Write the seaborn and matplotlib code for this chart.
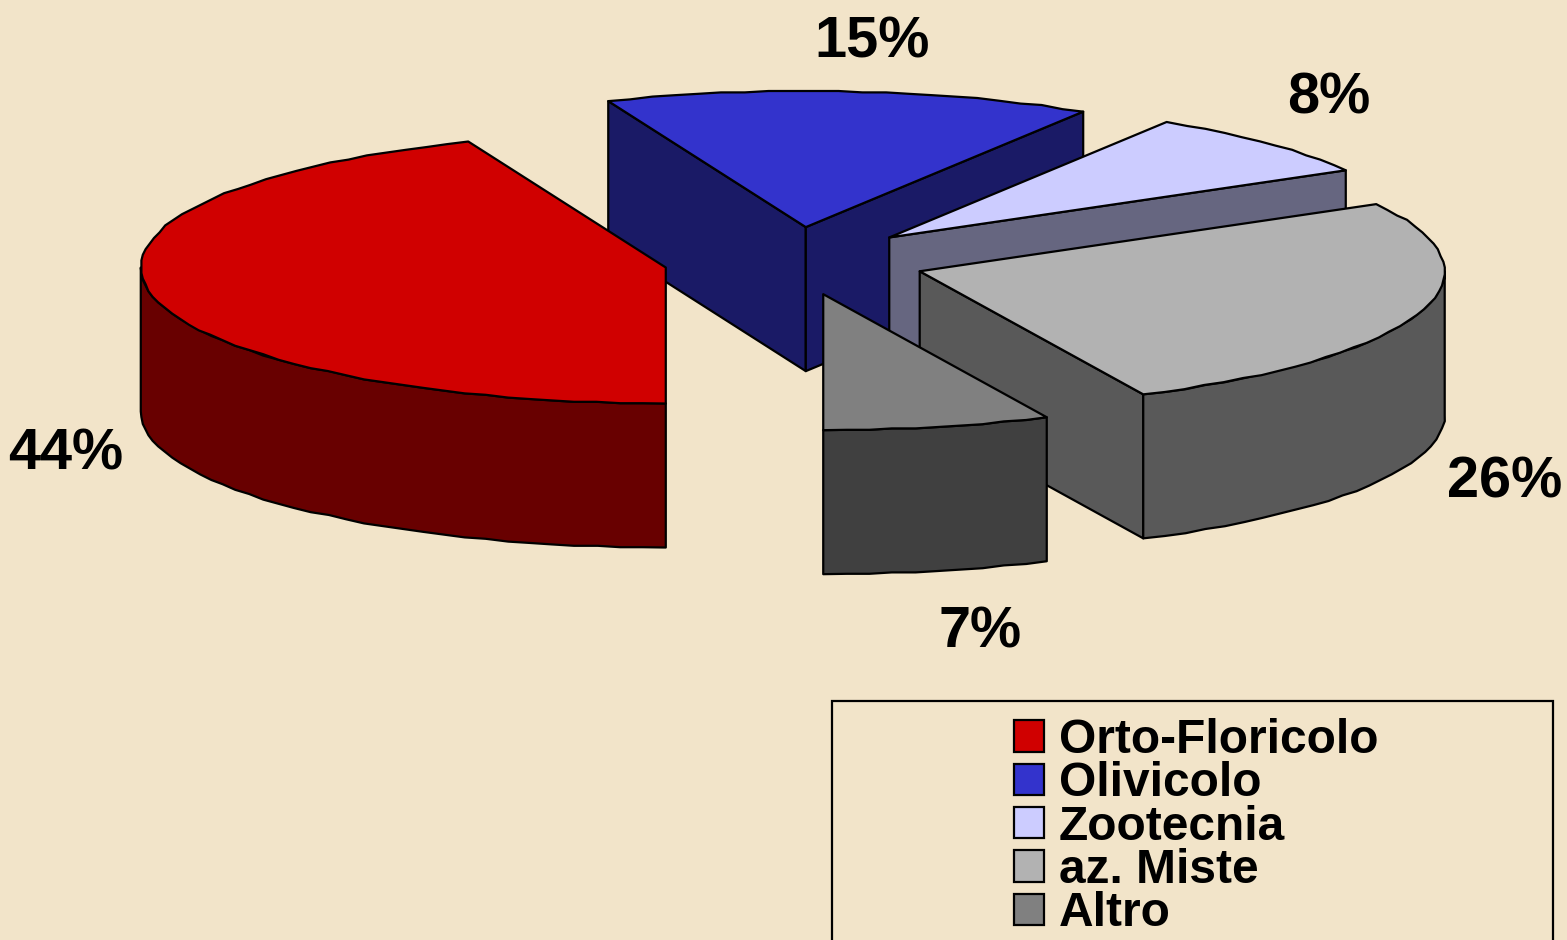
import numpy as np
import matplotlib
matplotlib.use("Agg")
import matplotlib.pyplot as plt
import seaborn as sns
from matplotlib.patches import Patch, Rectangle

# dati (stimati dagli angoli delle fette)
categorie = ["Orto-Floricolo", "Olivicolo", "Zootecnia", "az. Miste", "Altro"]
percentuali = [43.86, 15.0, 7.92, 26.22, 7.0]
colori = ["#D00000", "#3333CC", "#CCCCFF", "#B2B2B2", "#808080"]

# geometria della torta, in pixel
CENTRO_X, CENTRO_Y = 794.6, 261.0
RAGGIO_X, RAGGIO_Y = 525.0, 136.0
SPESSORE = 144.0
ESPLOSIONE = 0.25
ANGOLO_INIZIO = 270.0
SFONDO = "#F2E4C9"
LW = 1.6
PASSO_BORDO = 1.4  # il bordo dell'originale e' leggermente a gradini

# ordine di disegno: dal fondo verso il davanti
ORDINE = ["Olivicolo", "Zootecnia", "Orto-Floricolo", "az. Miste", "Altro"]
POS_ETICHETTE = {
    "Orto-Floricolo": (66, 454),
    "Olivicolo": (872, 42),
    "Zootecnia": (1329, 98),
    "az. Miste": (1505, 482),
    "Altro": (980, 633),
}


def punto(apice, t):
    return (apice[0] + RAGGIO_X * np.cos(np.radians(t)),
            apice[1] - RAGGIO_Y * np.sin(np.radians(t)))


def arco(apice, t_da, t_a):
    n = max(int(abs(t_da - t_a) / 2.5), 1) + 1
    ts = np.linspace(t_da, t_a, n)
    xs, ys = punto(apice, ts)
    xy = np.column_stack([xs, ys])
    xy[1:-1] = np.round(xy[1:-1] / PASSO_BORDO) * PASSO_BORDO
    return xy


def disegna_fetta(ax, t_alto, t_basso, colore):
    medio = np.radians((t_alto + t_basso) / 2)
    apice = (CENTRO_X + ESPLOSIONE * RAGGIO_X * np.cos(medio),
             CENTRO_Y - ESPLOSIONE * RAGGIO_Y * np.sin(medio))
    scuro = tuple(np.array(matplotlib.colors.to_rgb(colore)) * 0.5)
    giu = np.array([0, SPESSORE])
    stile = dict(edgecolor="black", linewidth=LW, joinstyle="round")

    # pareti radiali rivolte verso chi guarda
    for t, normale in [(t_alto, t_alto + 90), (t_basso, t_basso - 90)]:
        if np.sin(np.radians(normale)) < -1e-6:
            bordo = np.array(punto(apice, t))
            parete = np.array([apice, bordo, bordo + giu, np.array(apice) + giu])
            ax.fill(parete[:, 0], parete[:, 1], facecolor=scuro, **stile)

    # parete esterna, solo la parte davanti
    davanti_da = min(t_alto, 360.0) if t_basso >= 180 else min(t_alto, 0.0)
    davanti_a = max(t_basso, 180.0) if t_basso >= 180 else t_basso
    if t_basso < 180 and t_alto > 180:
        davanti_da, davanti_a = t_alto, 180.0
    if davanti_da > davanti_a:
        bordo = arco(apice, davanti_da, davanti_a)
        parete = np.vstack([bordo, (bordo + giu)[::-1]])
        ax.fill(parete[:, 0], parete[:, 1], facecolor=scuro, **stile)

    # faccia superiore
    faccia = np.vstack([[apice], arco(apice, t_alto, t_basso)])
    ax.fill(faccia[:, 0], faccia[:, 1], facecolor=colore, **stile)


sns.set_theme(style="white")
plt.rcParams["font.family"] = ["Liberation Sans", "DejaVu Sans"]

fig = plt.figure(figsize=(15.67, 9.40), dpi=100, facecolor=SFONDO)
ax = fig.add_axes([0, 0, 1, 1], facecolor=SFONDO)
ax.set_xlim(0, 1567)
ax.set_ylim(940, 0)
ax.axis("off")

palette = dict(zip(categorie, sns.color_palette(colori)))

angoli = {}
t = ANGOLO_INIZIO
for nome, p in zip(categorie, percentuali):
    angoli[nome] = (t, t - p * 3.6)
    t -= p * 3.6

for nome in ORDINE:
    disegna_fetta(ax, angoli[nome][0], angoli[nome][1], palette[nome])

for nome, p in zip(categorie, percentuali):
    x, y = POS_ETICHETTE[nome]
    ax.text(x, y, f"{p:.0f}%", fontsize=41.5, fontweight="bold", color="black",
            ha="center", va="center")

# riquadro della legenda, tagliato dal bordo inferiore
ax.add_patch(Rectangle((832, 701), 721, 300, facecolor=SFONDO,
                       edgecolor="black", linewidth=LW, clip_on=True))
maniglie = [Patch(facecolor=palette[n], edgecolor="black", linewidth=LW) for n in categorie]
leg = ax.legend(maniglie, categorie, loc="upper left", bbox_to_anchor=(1014, 718),
                bbox_transform=ax.transData, frameon=False, borderpad=0, borderaxespad=0,
                prop={"family": "Liberation Sans", "weight": "bold", "size": 34.5},
                handlelength=0.63, handleheight=0.63, handletextpad=0.31,
                labelspacing=-0.035, labelcolor="black")

sns.despine(ax=ax, left=True, bottom=True)
fig.savefig("out.png", dpi=100, facecolor=SFONDO)
